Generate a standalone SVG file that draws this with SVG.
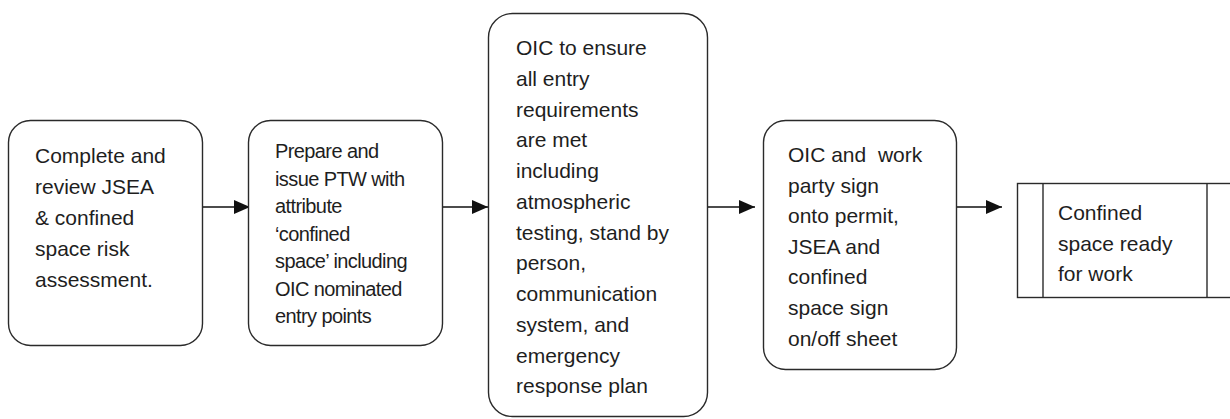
<svg xmlns="http://www.w3.org/2000/svg" width="1230" height="419" viewBox="0 0 1230 419">
<style>
.box{fill:#fff;stroke:#2a2a2a;stroke-width:1.4}
.t{font-family:"Liberation Sans",Arial,sans-serif;font-size:21px;fill:#1e1e1e}
.t2{font-family:"Liberation Sans",Arial,sans-serif;font-size:20px;fill:#1e1e1e;letter-spacing:-0.6px}
.c{stroke:#111;stroke-width:1.6;fill:none}
</style>
<defs>
<marker id="ah" markerUnits="userSpaceOnUse" markerWidth="16" markerHeight="14" refX="16" refY="7" orient="auto">
<path d="M0,0 L16,7 L0,14 Z" fill="#111"/>
</marker>
</defs>
<g id="connectors">
<line class="c" x1="203" y1="207" x2="250" y2="207" marker-end="url(#ah)"/>
<line class="c" x1="443" y1="207" x2="488" y2="207" marker-end="url(#ah)"/>
<line class="c" x1="708" y1="207" x2="755" y2="207" marker-end="url(#ah)"/>
<line class="c" x1="957" y1="207" x2="1002" y2="207" marker-end="url(#ah)"/>
</g>
<g id="n1">
<rect class="box" x="8.5" y="120.5" width="194" height="225" rx="22"/>
<text class="t" x="35" y="163">Complete and</text>
<text class="t" x="35" y="194">review JSEA</text>
<text class="t" x="35" y="225">&amp; confined</text>
<text class="t" x="35" y="256">space risk</text>
<text class="t" x="35" y="287">assessment.</text>
</g>
<g id="n2">
<rect class="box" x="248.5" y="120.5" width="194" height="225" rx="22"/>
<text class="t2" x="275" y="158">Prepare and</text>
<text class="t2" x="275" y="185.5">issue PTW with</text>
<text class="t2" x="275" y="213">attribute</text>
<text class="t2" x="275" y="240.5">‘confined</text>
<text class="t2" x="275" y="268">space’ including</text>
<text class="t2" x="275" y="295.5">OIC nominated</text>
<text class="t2" x="275" y="323">entry points</text>
</g>
<g id="n3">
<rect class="box" x="488.5" y="13.5" width="219" height="403" rx="24"/>
<text class="t" x="516" y="55">OIC to ensure</text>
<text class="t" x="516" y="85.7">all entry</text>
<text class="t" x="516" y="116.5">requirements</text>
<text class="t" x="516" y="147.2">are met</text>
<text class="t" x="516" y="178">including</text>
<text class="t" x="516" y="208.7">atmospheric</text>
<text class="t" x="516" y="239.5">testing, stand by</text>
<text class="t" x="516" y="270.2">person,</text>
<text class="t" x="516" y="301">communication</text>
<text class="t" x="516" y="331.7">system, and</text>
<text class="t" x="516" y="362.5">emergency</text>
<text class="t" x="516" y="393.2">response plan</text>
</g>
<g id="n4">
<rect class="box" x="763.5" y="120.5" width="193" height="249" rx="22"/>
<text class="t" x="788" y="162" xml:space="preserve">OIC and  work</text>
<text class="t" x="788" y="192.6">party sign</text>
<text class="t" x="788" y="223.2">onto permit,</text>
<text class="t" x="788" y="253.8">JSEA and</text>
<text class="t" x="788" y="284.4">confined</text>
<text class="t" x="788" y="315">space sign</text>
<text class="t" x="788" y="345.6">on/off sheet</text>
</g>
<g id="n5">
<rect class="box" x="1017.5" y="183.5" width="216" height="114"/>
<line class="box" x1="1043" y1="183.5" x2="1043" y2="297.5"/>
<line class="box" x1="1207" y1="183.5" x2="1207" y2="297.5"/>
<text class="t" x="1058" y="220">Confined</text>
<text class="t" x="1058" y="250.5">space ready</text>
<text class="t" x="1058" y="281">for work</text>
</g>
</svg>
